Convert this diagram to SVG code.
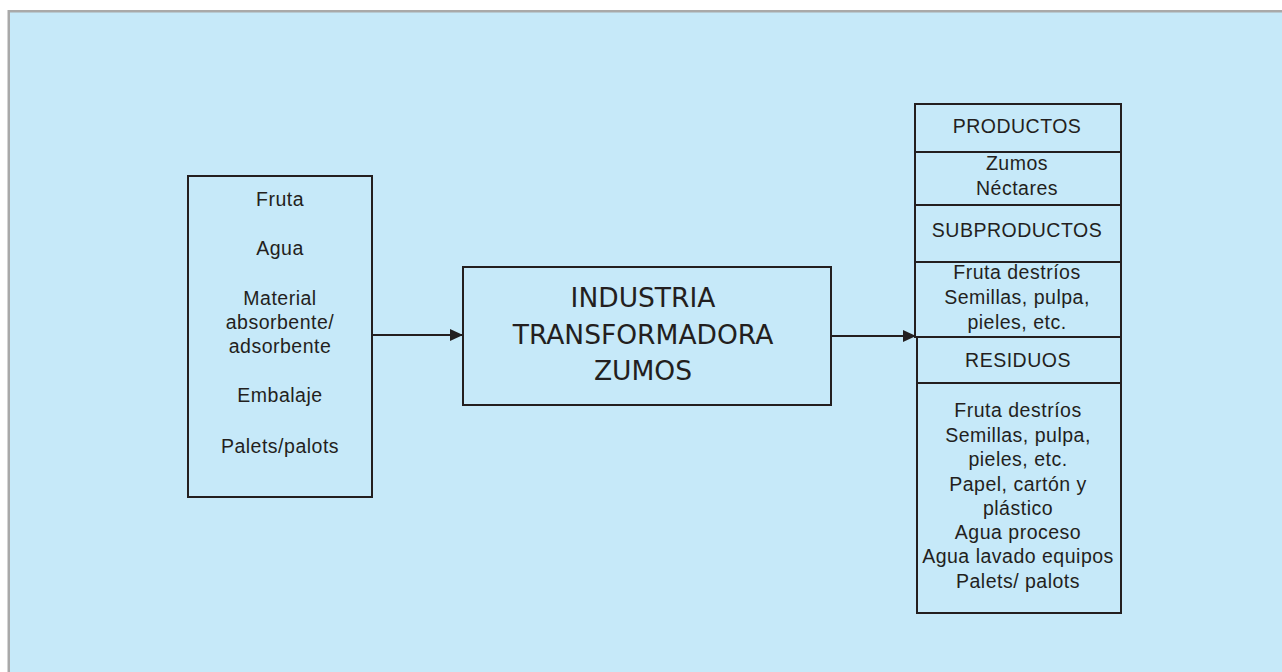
<svg xmlns="http://www.w3.org/2000/svg" width="1282" height="672" viewBox="0 0 1282 672">
  <style>
    .box { fill: none; stroke: #231f20; stroke-width: 2; }
    .wire { fill: none; stroke: #231f20; stroke-width: 1.8; }
    .t { font-family: "Liberation Sans", Arial, sans-serif; font-size: 19.5px; letter-spacing: 0.5px; fill: #231f20; text-anchor: middle; }
    .big { font-family: "DejaVu Sans", Tahoma, sans-serif; font-size: 26.5px; fill: #231f20; text-anchor: middle; }
  </style>
  <defs>
    <marker id="arrow" viewBox="0 0 13 12" refX="13" refY="6" markerWidth="13" markerHeight="12" markerUnits="userSpaceOnUse" orient="auto">
      <path d="M0,0 L13,6 L0,12 Z" fill="#231f20"/>
    </marker>
  </defs>

  <!-- panel -->
  <rect x="0" y="0" width="1282" height="672" fill="#ffffff"/>
  <rect x="7.5" y="10" width="1275" height="662" fill="#a9a9a9"/>
  <rect x="10" y="12.5" width="1272" height="660" fill="#c6e9f9"/>

  <!-- inputs -->
  <g id="inputs">
    <rect class="box" x="188" y="176" width="184" height="321"/>
    <text class="t" x="280" y="205.5">Fruta</text>
    <text class="t" x="280" y="255">Agua</text>
    <text class="t" x="280" y="305">Material</text>
    <text class="t" x="280" y="329">absorbente/</text>
    <text class="t" x="280" y="353">adsorbente</text>
    <text class="t" x="280" y="402">Embalaje</text>
    <text class="t" x="280" y="453">Palets/palots</text>
  </g>

  <!-- process -->
  <g id="industria">
    <rect class="box" x="463" y="267" width="368" height="138"/>
    <text class="big" x="643" y="307">INDUSTRIA</text>
    <text class="big" x="643" y="343.5">TRANSFORMADORA</text>
    <text class="big" x="643" y="380">ZUMOS</text>
  </g>

  <!-- outputs: products and by-products -->
  <g id="productos">
    <rect class="box" x="915" y="104" width="206" height="233"/>
    <line class="box" x1="915" y1="152" x2="1121" y2="152"/>
    <line class="box" x1="915" y1="205" x2="1121" y2="205"/>
    <line class="box" x1="915" y1="262" x2="1121" y2="262"/>
    <text class="t" x="1017" y="133">PRODUCTOS</text>
    <text class="t" x="1017" y="170">Zumos</text>
    <text class="t" x="1017" y="195">Néctares</text>
    <text class="t" x="1017" y="236.5">SUBPRODUCTOS</text>
    <text class="t" x="1017" y="279">Fruta destríos</text>
    <text class="t" x="1017" y="303.5">Semillas, pulpa,</text>
    <text class="t" x="1017" y="329">pieles, etc.</text>
  </g>

  <!-- outputs: waste -->
  <g id="residuos">
    <rect class="box" x="917" y="337" width="204" height="276"/>
    <line class="box" x1="917" y1="383" x2="1121" y2="383"/>
    <text class="t" x="1018" y="366.5">RESIDUOS</text>
    <text class="t" x="1018" y="417">Fruta destríos</text>
    <text class="t" x="1018" y="441.5">Semillas, pulpa,</text>
    <text class="t" x="1018" y="466">pieles, etc.</text>
    <text class="t" x="1018" y="490.5">Papel, cartón y</text>
    <text class="t" x="1018" y="514.5">plástico</text>
    <text class="t" x="1018" y="538.5">Agua proceso</text>
    <text class="t" x="1018" y="563">Agua lavado equipos</text>
    <text class="t" x="1018" y="587.5">Palets/ palots</text>
  </g>

  <!-- connectors -->
  <g id="connectors">
    <line class="wire" x1="372" y1="335" x2="463" y2="335" marker-end="url(#arrow)"/>
    <line class="wire" x1="831" y1="336" x2="916" y2="336" marker-end="url(#arrow)"/>
  </g>
</svg>
